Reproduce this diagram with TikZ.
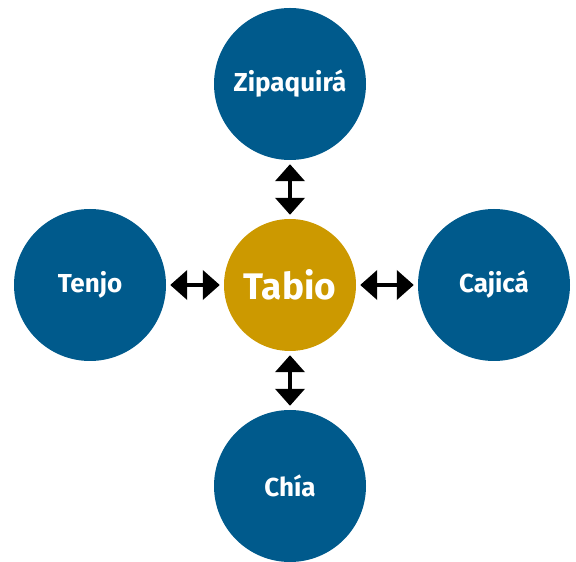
\documentclass[tikz,border=0pt]{standalone}
\usepackage{fontspec}
\setmainfont{Fira Sans}
\usepackage{tikz}
\usetikzlibrary{arrows.meta}

\definecolor{townblue}{HTML}{005A8C}
\definecolor{towngold}{HTML}{CC9900}

\tikzset{
	town/.style={circle, fill=townblue, minimum size=152pt, inner sep=0pt,
		text=white, font=\bfseries\fontsize{26}{30}\selectfont},
	hub/.style={circle, fill=towngold, minimum size=132pt, inner sep=0pt,
		text=white, font=\fontsize{37}{40}\selectfont\bfseries},
	link/.style={line width=4pt, {Triangle[width=29pt,length=17pt]}-{Triangle[width=29pt,length=17pt]},
		shorten <=4pt, shorten >=4pt}
}

\begin{document}
\begin{tikzpicture}[x=1pt,y=1pt]
	\useasboundingbox (0,0) rectangle (576,562);
	
	\node[hub] (tabio) at (290,277) {Tabio};
	\node[town] (zipa) at (290,478) {Zipaquirá};
	\node[town] (tenjo) at (90,277) {Tenjo};
	\node[town] (cajica) at (494,277) {Cajicá};
	\node[town] (chia) at (290,76) {Chía};
	
	\draw[link] (tabio) -- (zipa);
	\draw[link] (tabio) -- (tenjo);
	\draw[link] (tabio) -- (cajica);
	\draw[link] (tabio) -- (chia);
\end{tikzpicture}
\end{document}
